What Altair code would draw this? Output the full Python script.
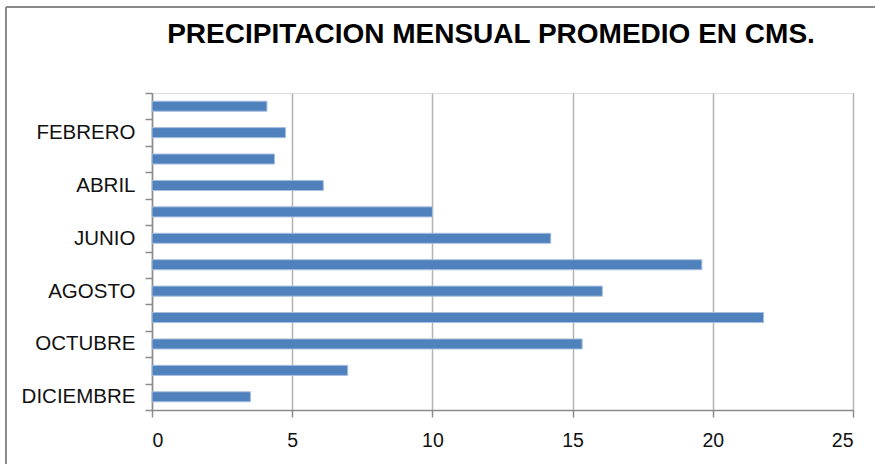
import altair as alt
import pandas as pd

# Average monthly rainfall (cm)
meses = ["ENERO", "FEBRERO", "MARZO", "ABRIL", "MAYO", "JUNIO",
         "JULIO", "AGOSTO", "SEPTIEMBRE", "OCTUBRE", "NOVIEMBRE", "DICIEMBRE"]
precipitacion = [4.1, 4.76, 4.37, 6.11, 10.0, 14.22,
                 19.61, 16.06, 21.81, 15.34, 6.98, 3.51]
# every second month is labelled on the axis
etiquetas = ["FEBRERO", "ABRIL", "JUNIO", "AGOSTO", "OCTUBRE", "DICIEMBRE"]
x_ticks = [0, 5, 10, 15, 20, 25]
titulo = "PRECIPITACION MENSUAL PROMEDIO EN CMS."

df = pd.DataFrame({"mes": meses, "cm": precipitacion})

W, H = 701, 317
label_expr = "indexof(" + str(etiquetas) + ", datum.value) >= 0 ? datum.value : ''"

# bars take 38% of each category band, centred; ticks sit on the band edges
bars = alt.Chart(df).mark_bar(
    color="#4F81BD", stroke="#A7BFDF", strokeWidth=1,
    height=alt.RelativeBandSize(0.38)
).encode(
    x=alt.X("cm:Q",
            scale=alt.Scale(domain=[0, 25], nice=False),
            axis=alt.Axis(values=x_ticks, title=None, grid=True,
                          gridColor="#B3B3B3", gridWidth=1.5,
                          domainColor="#8C8C8C", domainWidth=1.5,
                          tickColor="#8C8C8C", tickWidth=1.5, tickSize=7,
                          labelFont="Liberation Sans", labelFontSize=19.5,
                          labelColor="#111111", labelPadding=14)),
    y=alt.Y("mes:N", sort=meses,
            scale=alt.Scale(paddingInner=0, paddingOuter=0),
            axis=alt.Axis(title=None, tickBand="extent",
                          labelExpr=label_expr,
                          domainColor="#8C8C8C", domainWidth=1.5,
                          tickColor="#8C8C8C", tickWidth=1.5, tickSize=7,
                          labelFont="Liberation Sans", labelFontSize=20.5,
                          labelColor="#111111", labelPadding=10)),
)

one = pd.DataFrame({"k": [0]})

# chart title, set as text above the plot
title = alt.Chart(one).mark_text(
    text=titulo, font="Liberation Sans", fontSize=28, fontWeight="bold",
    color="#000000", align="center", baseline="alphabetic"
).encode(x=alt.value(339), y=alt.value(-50))

# outer frame of the chart (top and left edges)
frame_top = alt.Chart(one).mark_rule(color="#8A8A8A", strokeWidth=2).encode(
    x=alt.value(-146), x2=alt.value(W + 30), y=alt.value(-86))
frame_left = alt.Chart(one).mark_rule(color="#8A8A8A", strokeWidth=2).encode(
    x=alt.value(-146), y=alt.value(-86), y2=alt.value(H + 60))

chart = alt.layer(bars, title, frame_top, frame_left).properties(
    width=W, height=H,
    padding={"left": 152, "top": 93, "right": 22, "bottom": 54},
    autosize=alt.AutoSizeParams(type="none"),
).configure_view(stroke=None).configure(background="white")

chart.save("out.html", embed_options={"renderer": "svg", "actions": False})
